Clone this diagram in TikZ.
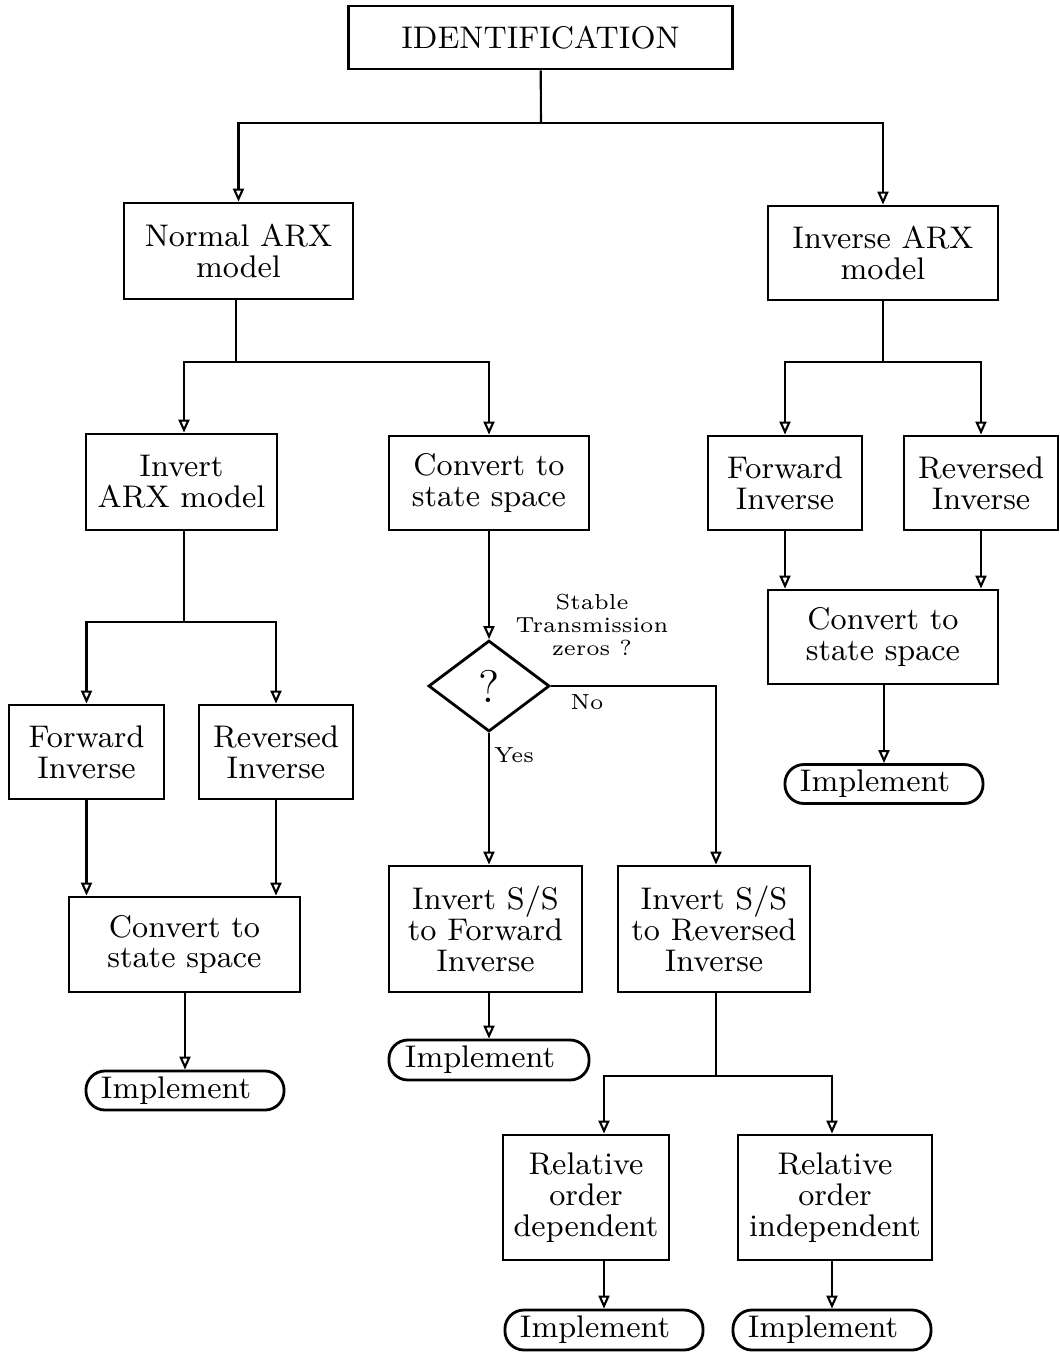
\documentclass[tikz,border=0pt]{standalone}
\usetikzlibrary{arrows.meta,shapes.geometric}

\begin{document}
\begin{tikzpicture}[x=0.01cm, y=-0.01cm, >={Triangle[open, length=1.3mm, width=1.1mm]},
    box/.style={draw, line width=0.8pt, inner sep=0pt, align=center,
                font=\fontsize{8.9}{8.8}\selectfont},
    impl/.style={box, rounded corners=0.19cm, minimum width=1.98cm, minimum height=0.39cm},
    small/.style={align=center, inner sep=0pt, font=\fontsize{6.2}{6.5}\selectfont},
    link/.style={line width=0.6pt}]

    \useasboundingbox (0,0) rectangle (1059,1353);

    % 1. Khoi tren cung
    \node[box, minimum width=3.83cm, minimum height=0.63cm] (id) at (540.5,37.5) {IDENTIFICATION};
    \node[box, minimum width=2.29cm, minimum height=0.96cm] (nARX) at (238.5,251) {Normal ARX\\model};
    \node[box, minimum width=2.30cm, minimum height=0.94cm] (iARX) at (883,253) {Inverse ARX\\model};

    % 2. Nhanh trai (Normal ARX)
    \node[box, minimum width=1.91cm, minimum height=0.96cm] (invARX) at (181.5,482) {Invert\\ARX model};
    \node[box, minimum width=1.55cm, minimum height=0.94cm] (fwdL) at (86.5,752) {Forward\\Inverse};
    \node[box, minimum width=1.54cm, minimum height=0.94cm] (revL) at (276,752) {Reversed\\Inverse};
    \node[box, minimum width=2.31cm, minimum height=0.95cm] (cssL) at (184.5,944.5) {Convert to\\state space};
    \node[impl] (implL) at (185,1090.5) {Implement\hspace*{0.18cm}};

    % 3. Nhanh giua (state space)
    \node[box, minimum width=2.00cm, minimum height=0.94cm] (cssM) at (489,483) {Convert to\\state space};
    \node[draw, diamond, line width=0.8pt, inner sep=0pt, minimum width=1.21cm, minimum height=0.91cm,
          font=\fontsize{13}{13}\selectfont] (dia) at (489,686) {?};
    \node[small] (qst) at (592,625) {Stable\\Transmission\\zeros ?};
    \node[small] (no) at (587,702) {No};
    \node[small] (yes) at (514,755) {Yes};
    \node[box, minimum width=1.93cm, minimum height=1.26cm] (fwdSS) at (485.5,929) {Invert S/S\\to Forward\\Inverse};
    \node[box, minimum width=1.92cm, minimum height=1.26cm] (revSS) at (714,929) {Invert S/S\\to Reversed\\Inverse};
    \node[impl, minimum width=2.00cm, minimum height=0.40cm] (implM) at (489,1060) {Implement\hspace*{0.18cm}};
    \node[box, minimum width=1.66cm, minimum height=1.25cm] (relD) at (586,1197.5) {Relative\\order\\dependent};
    \node[box, minimum width=1.94cm, minimum height=1.25cm] (relI) at (835,1197.5) {Relative\\order\\independent};
    \node[impl, minimum height=0.40cm] (implD) at (604,1330) {Implement\hspace*{0.18cm}};
    \node[impl, minimum height=0.40cm] (implI) at (832,1330) {Implement\hspace*{0.18cm}};

    % 4. Nhanh phai (Inverse ARX)
    \node[box, minimum width=1.54cm, minimum height=0.94cm] (fwdR) at (785,483) {Forward\\Inverse};
    \node[box, minimum width=1.54cm, minimum height=0.94cm] (revR) at (981,483) {Reversed\\Inverse};
    \node[box, minimum width=2.30cm, minimum height=0.94cm] (cssR) at (883,637) {Convert to\\state space};
    \node[impl] (implR) at (884,784) {Implement\hspace*{0.18cm}};

    % 5. Cac diem re nhanh
    \coordinate (j1) at (541,123);
    \coordinate (j2) at (236,362);
    \coordinate (j3) at (883,362);
    \coordinate (j4) at (184,622);
    \coordinate (j5) at (716,1076);

    % 6. Cac duong noi
    \draw[link] (id) -- (j1);
    \draw[link, ->] (j1) -| (nARX);
    \draw[link, ->] (j1) -| (iARX);

    \draw[link] (nARX.south -| j2) -- (j2);
    \draw[link, ->] (j2) -| (invARX.north -| j4);
    \draw[link, ->] (j2) -| (cssM);

    \draw[link] (iARX) -- (j3);
    \draw[link, ->] (j3) -| (fwdR);
    \draw[link, ->] (j3) -| (revR);
    \draw[link, ->] (fwdR) -- (fwdR |- cssR.north);
    \draw[link, ->] (revR) -- (revR |- cssR.north);
    \draw[link, ->] (cssR.south -| implR) -- (implR);

    \draw[link] (invARX.south -| j4) -- (j4);
    \draw[link, ->] (j4) -| (fwdL);
    \draw[link, ->] (j4) -| (revL);
    \draw[link, ->] (fwdL) -- (fwdL |- cssL.north);
    \draw[link, ->] (revL) -- (revL |- cssL.north);
    \draw[link, ->] (cssL.south -| implL) -- (implL);

    \draw[link, ->] (cssM) -- (dia);
    \draw[link, ->] (dia.south) -- (dia.south |- fwdSS.north);
    \draw[link, ->] (dia.east) -| (j5 |- revSS.north);
    \draw[link, ->] (dia |- fwdSS.south) -- (dia |- implM.north);

    \draw[link] (j5 |- revSS.south) -- (j5);
    \draw[link, ->] (j5) -| (implD |- relD.north);
    \draw[link, ->] (j5) -| (implI |- relI.north);
    \draw[link, ->] (implD |- relD.south) -- (implD);
    \draw[link, ->] (implI |- relI.south) -- (implI);

\end{tikzpicture}
\end{document}
